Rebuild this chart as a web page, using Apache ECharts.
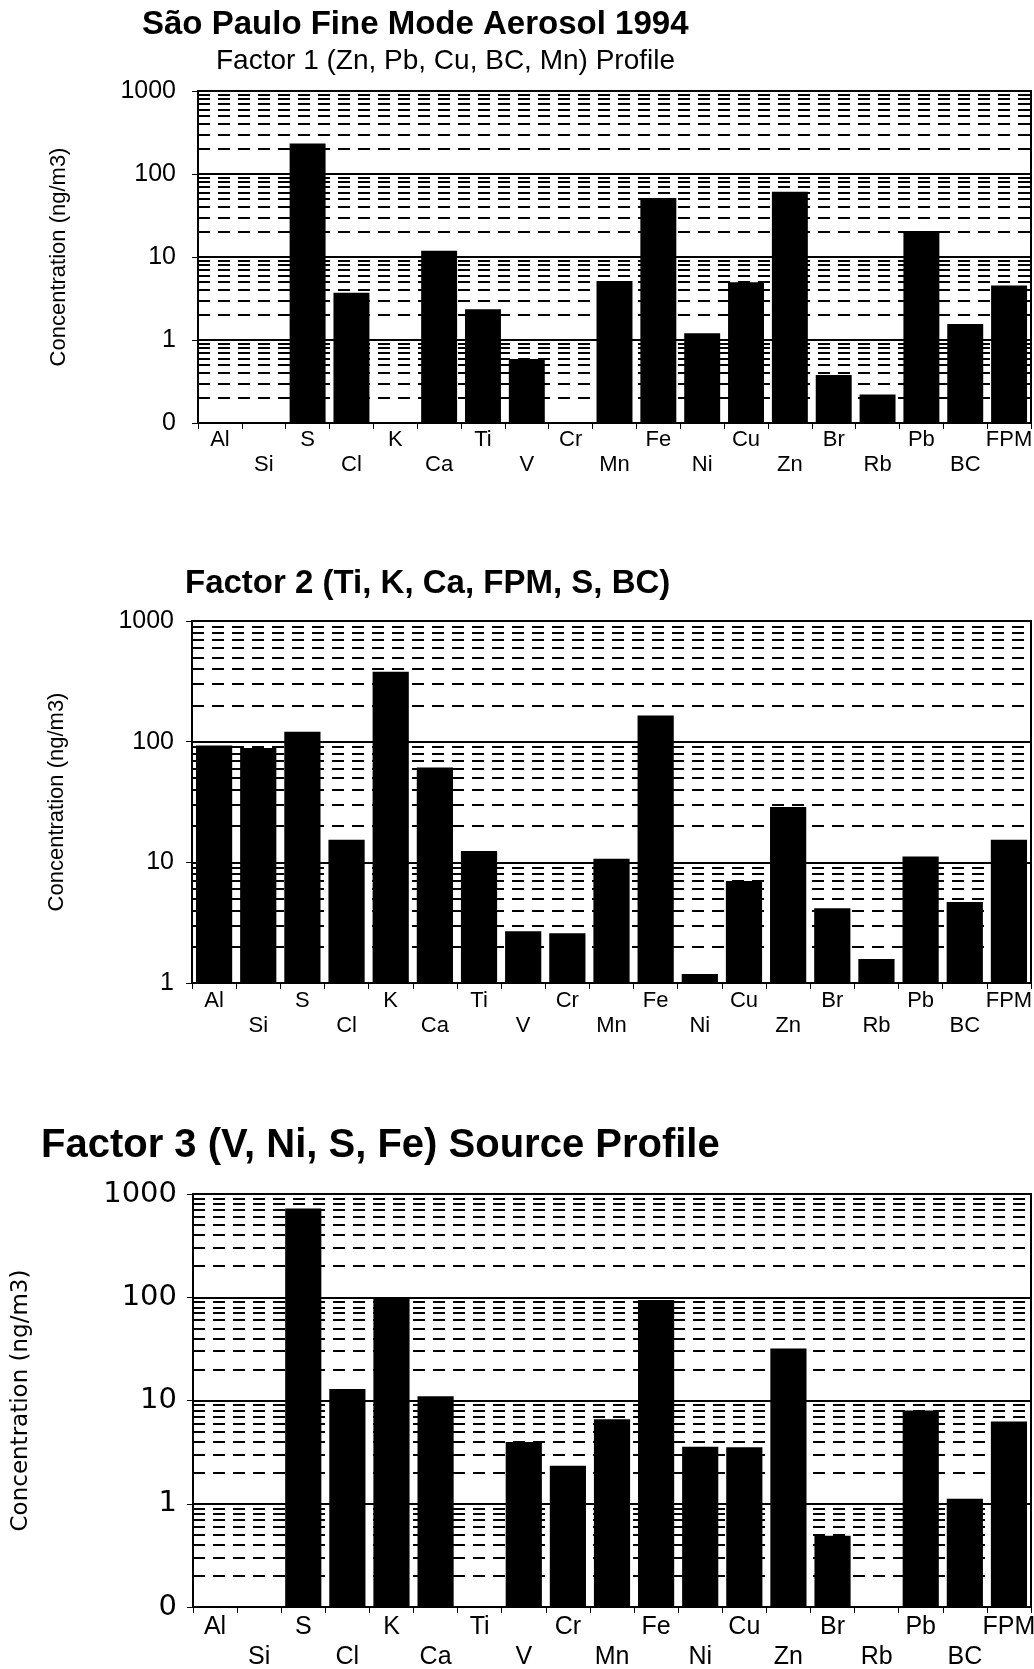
<!DOCTYPE html>
<html>
<head>
<meta charset="utf-8">
<title>São Paulo Fine Mode Aerosol 1994</title>
<script src="https://cdn.jsdelivr.net/npm/echarts@6/dist/echarts.min.js"></script>
<style>
  html, body { margin: 0; padding: 0; background: #fff; }
  #chart { width: 1034px; height: 1669px; }
</style>
</head>
<body>
<div id="chart"></div>
<script>
// elements along the x axis (alternate labels drop to a second row)
const elements = ['Al', 'Si', 'S', 'Cl', 'K', 'Ca', 'Ti', 'V', 'Cr', 'Mn', 'Fe', 'Ni', 'Cu', 'Zn', 'Br', 'Rb', 'Pb', 'BC', 'FPM']

// concentrations in ng/m3, '-' = no bar
const factor1 = ['-', '-', 233, 3.7, '-', 11.9, 2.35, 0.59, '-', 5.15, 51.5, 1.21, 4.95, 61, 0.38, 0.22, 20.5, 1.56, 4.55]
const factor2 = [93, 88.5, 121, 15.4, 380, 61, 12.4, 2.69, 2.58, 10.7, 165, 1.19, 7.0, 28.7, 4.17, 1.58, 11.2, 4.68, 15.4]
const factor3 = ['-', '-', 725, 12.9, 100, 11, '-', 3.97, 2.33, 6.6, 94, 3.56, 3.53, 31.8, 0.49, '-', 8.0, 1.12, 6.25]

// log axis ranges
const yRange1 = [0.1, 1000]
const yRange2 = [1, 1000]
const yRange3 = [0.1, 1000]

const mainTitle = 'São Paulo Fine Mode Aerosol 1994'
const subTitle1 = 'Factor 1 (Zn, Pb, Cu, BC, Mn) Profile'
const title2 = 'Factor 2 (Ti, K, Ca, FPM, S, BC)'
const title3 = 'Factor 3 (V, Ni, S, Fe) Source Profile'
const yName = 'Concentration (ng/m3)'

const SANS = '"Liberation Sans", Arial, sans-serif'
const WIDE = '"DejaVu Sans", sans-serif'

// dashed minor lines at 2..9 of each decade
function minorLines(range) {
  let out = []
  for (let d = range[0]; d < range[1] * 0.99; d *= 10) {
    for (let k = 2; k <= 9; k++) {
      out.push({ yAxis: +(k * d).toPrecision(3) })
    }
  }
  return out
}

function panel(idx, values, range, cfg) {
  let grid = {
    left: cfg.left, right: 3, top: cfg.top, height: cfg.height,
    outerBoundsMode: 'none',
    show: true, borderColor: '#000', borderWidth: 2, backgroundColor: 'transparent'
  }
  let xAxis = {
    type: 'category',
    gridIndex: idx,
    data: elements,
    axisLine: { lineStyle: { color: '#000', width: 2 } },
    axisTick: { show: true, length: 6, lineStyle: { color: '#000', width: 1 } },
    axisLabel: {
      interval: 0,
      color: '#000',
      fontFamily: SANS,
      fontSize: cfg.xFont,
      lineHeight: cfg.xLine,
      margin: cfg.xMargin,
      formatter: (v, i) => (i % 2 ? '\n' + v : v)
    }
  }
  let yAxis = {
    type: 'log',
    logBase: 10,
    gridIndex: idx,
    min: range[0],
    max: range[1],
    startValue: range[0],
    name: yName,
    nameLocation: 'middle',
    nameGap: cfg.nameGap,
    nameTextStyle: { color: '#000', fontFamily: cfg.nameFamily, fontSize: cfg.nameFont },
    axisLine: { show: true, lineStyle: { color: '#000', width: 2 } },
    axisTick: { show: true, length: 6, lineStyle: { color: '#000' } },
    splitLine: { show: true, lineStyle: { color: '#000', width: 2 } },
    axisLabel: {
      color: '#000',
      fontFamily: cfg.yFamily,
      fontSize: cfg.yFont,
      margin: cfg.yMargin,
      formatter: v => (v < 1 ? '0' : String(Math.round(v)))
    }
  }
  let series = {
    type: 'bar',
    xAxisIndex: idx,
    yAxisIndex: idx,
    data: values,
    barCategoryGap: '18%',
    itemStyle: { color: '#000' },
    z: 3,
    animation: false,
    markLine: {
      z: 1,
      silent: true,
      animation: false,
      symbol: ['none', 'none'],
      label: { show: false },
      lineStyle: { color: '#000', width: 2, type: [12, 8] },
      data: minorLines(range)
    }
  }
  return { grid, xAxis, yAxis, series }
}

const p1 = panel(0, factor1, yRange1, {
  left: 198, top: 91, height: 332,
  xFont: 22, xLine: 25, xMargin: 4,
  yFont: 25, yFamily: SANS, yMargin: 22,
  nameGap: 128, nameFont: 22, nameFamily: SANS
})
const p2 = panel(1, factor2, yRange2, {
  left: 192, top: 621, height: 362,
  xFont: 22, xLine: 25, xMargin: 5,
  yFont: 25, yFamily: SANS, yMargin: 18,
  nameGap: 124, nameFont: 22, nameFamily: SANS
})
const p3 = panel(2, factor3, yRange3, {
  left: 193, top: 1194, height: 413,
  xFont: 25, xLine: 30, xMargin: 5,
  yFont: 29, yFamily: WIDE, yMargin: 16,
  nameGap: 160, nameFont: 23, nameFamily: WIDE
})
const panels = [p1, p2, p3]

const chart = echarts.init(document.getElementById('chart'), null, { renderer: 'canvas' })
chart.setOption({
  backgroundColor: '#fff',
  animation: false,
  title: [
    { text: mainTitle, left: 142, top: 8, padding: 0,
      textStyle: { fontFamily: SANS, fontWeight: 'bold', fontSize: 33, color: '#000' } },
    { text: subTitle1, left: 216, top: 47, padding: 0,
      textStyle: { fontFamily: SANS, fontWeight: 'normal', fontSize: 28, color: '#000' } },
    { text: title2, left: 185, top: 567, padding: 0,
      textStyle: { fontFamily: SANS, fontWeight: 'bold', fontSize: 33, color: '#000' } },
    { text: title3, left: 41, top: 1126, padding: 0,
      textStyle: { fontFamily: SANS, fontWeight: 'bold', fontSize: 40, color: '#000' } }
  ],
  grid: panels.map(p => p.grid),
  xAxis: panels.map(p => p.xAxis),
  yAxis: panels.map(p => p.yAxis),
  series: panels.map(p => p.series)
})
</script>
</body>
</html>
